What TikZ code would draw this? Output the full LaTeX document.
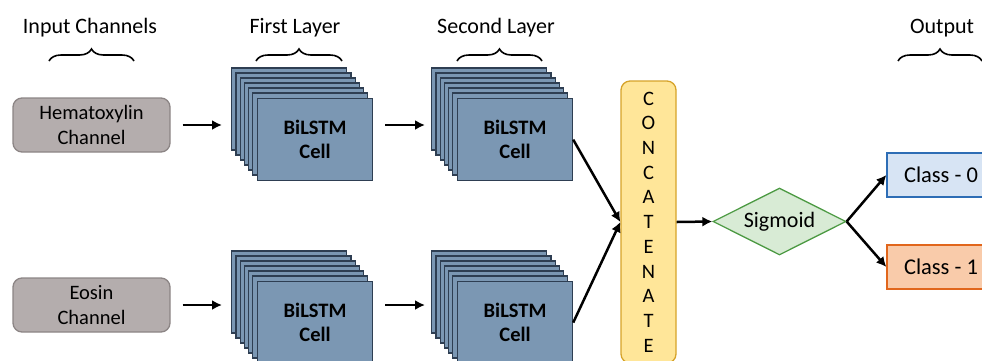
\documentclass[tikz,border=0pt]{standalone}
\usepackage{fontspec}
\setmainfont{Carlito}
\usetikzlibrary{arrows.meta,shapes.geometric,decorations.pathreplacing,calc}

\definecolor{chanfill}{HTML}{B4ADAD}
\definecolor{chanline}{HTML}{8C8585}
\definecolor{cellfill}{HTML}{7B97B3}
\definecolor{cellline}{HTML}{2E3E52}
\definecolor{catfill}{HTML}{FFE699}
\definecolor{catline}{HTML}{D6A32A}
\definecolor{sigfill}{HTML}{D8EBD5}
\definecolor{sigline}{HTML}{4E9B45}
\definecolor{c0fill}{HTML}{D7E4F4}
\definecolor{c0line}{HTML}{2D6DB5}
\definecolor{c1fill}{HTML}{F9CBAA}
\definecolor{c1line}{HTML}{E1661C}

\newcommand{\fsz}[1]{\fontsize{#1}{#1}\selectfont}

\tikzset{
  chanbox/.style={rounded corners=9pt, fill=chanfill, draw=chanline, line width=1.3pt,
    minimum width=157pt, minimum height=54pt, align=center, inner sep=0pt,
    font=\fontsize{20.5}{24.5}\selectfont},
  cellrect/.style={fill=cellfill, draw=cellline, line width=1.2pt},
  cellfront/.style={cellrect, minimum width=115pt, minimum height=82pt, inner sep=0pt,
    align=center, font=\fontsize{20.5}{24.5}\selectfont\bfseries},
  catbox/.style={rounded corners=9pt, fill=catfill, draw=catline, line width=1.3pt,
    minimum width=55pt, minimum height=282pt, inner sep=0pt, align=center,
    font=\fontsize{20.5}{24.7}\selectfont},
  sigbox/.style={diamond, aspect=2, fill=sigfill, draw=sigline, line width=1.3pt,
    minimum width=133pt, minimum height=67pt, inner sep=0pt, font=\fsz{22}},
  classbox/.style={minimum width=108pt, minimum height=44pt, inner sep=0pt,
    line width=1.3pt, font=\fsz{22.5}},
  heading/.style={anchor=base, font=\fsz{22}, inner sep=0pt},
  bracket/.style={decorate, decoration={brace, amplitude=12pt}, line width=1.6pt},
  arr/.style={-{Latex[length=10pt,width=10pt]}, line width=2.5pt}
}

% a stack of BiLSTM cells: #1 name, (#2,#3) top-left corner of the front cell
\newcommand{\cellstack}[3]{%
  \foreach \i in {6,5,...,1}{
    \draw[cellrect] (#2-4.2*\i, #3-5*\i) rectangle ++(115,82);
  }
  \node[cellfront, anchor=north west] (#1) at (#2,#3) {BiLSTM\\Cell};
}

\begin{document}
\begin{tikzpicture}[x=1pt, y=-1pt]
\useasboundingbox (0,0) rectangle (982,360);
\clip (0,0) rectangle (982,360);

% headings with braces
\node[heading] (hIn)  at (90,33)  {Input Channels};
\node[heading] (hL1)  at (295,33) {First Layer};
\node[heading] (hL2)  at (496,33) {Second Layer};
\node[heading] (hOut) at (942,33) {Output};
\coordinate (bInA) at (49,61);   \coordinate (bInB) at (134,61);
\coordinate (bL1A) at (256,61);  \coordinate (bL1B) at (342,61);
\coordinate (bL2A) at (457,61);  \coordinate (bL2B) at (542,61);
\coordinate (bOutA) at (898,61); \coordinate (bOutB) at (982,61);
\draw[bracket] (bInA) -- (bInB);
\draw[bracket] (bL1A) -- (bL1B);
\draw[bracket] (bL2A) -- (bL2B);
\draw[bracket] (bOutA) -- (bOutB);

% input channels
\node[chanbox] (hema)  at (91.5,125) {Hematoxylin\\Channel};
\node[chanbox] (eosin) at (91.5,305) {Eosin\\Channel};

% BiLSTM layers
\cellstack{c1}{257}{98}
\cellstack{c2}{457}{98}
\cellstack{c3}{257}{281}
\cellstack{c4}{457}{281}

% concatenation, sigmoid and outputs
\node[catbox] (cat) at (648.5,222) {C\\O\\N\\C\\A\\T\\E\\N\\A\\T\\E};
\node[sigbox] (sig) at (779.5,221.5) {Sigmoid};
\node[classbox, fill=c0fill, draw=c0line] (cl0) at (941,175) {Class - 0};
\node[classbox, fill=c1fill, draw=c1line] (cl1) at (941,267) {Class - 1};

% connectors
\draw[arr] ([xshift=12pt]hema.east) -- ([xshift=-35pt]hema.east -| c1.west);
\draw[arr] ([xshift=12pt]eosin.east) -- ([xshift=-35pt]eosin.east -| c3.west);
\draw[arr] ([xshift=12pt]hema.east -| c1.east) -- ([xshift=-32pt]hema.east -| c2.west);
\draw[arr] ([xshift=12pt]eosin.east -| c3.east) -- ([xshift=-32pt]eosin.east -| c4.west);
\draw[arr] (c2.east) -- (cat.west);
\draw[arr] (c4.east) -- (cat.west);
\draw[arr] (cat.east) -- (sig.west);
\draw[arr] (sig.east) -- (cl0.west);
\draw[arr] (sig.east) -- (cl1.west);
\end{tikzpicture}
\end{document}
